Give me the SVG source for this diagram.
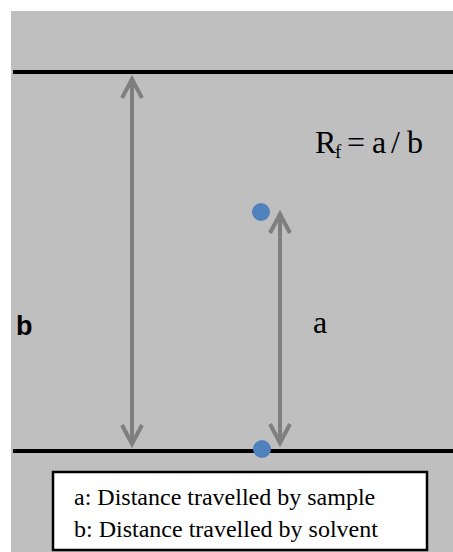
<svg xmlns="http://www.w3.org/2000/svg" width="453" height="552" viewBox="0 0 453 552">
  <style>
    .plate { fill: #BFBFBF; }
    .front { stroke: #000000; stroke-width: 4; }
    .dist { stroke: #7F7F7F; stroke-width: 4; fill: none; }
    .spot { fill: #4F81BD; }
    .serif { font-family: "Liberation Serif", "Times New Roman", serif; fill: #000000; }
    .sans { font-family: "Liberation Sans", Arial, sans-serif; font-weight: bold; fill: #000000; }
  </style>
  <defs>
    <marker id="chev" markerUnits="userSpaceOnUse" viewBox="-26 -16 32 32" markerWidth="32" markerHeight="32" refX="0" refY="0" orient="auto-start-reverse">
      <path d="M-19,-10 L0,0 L-19,10" fill="none" stroke="#7F7F7F" stroke-width="4" stroke-linejoin="miter"/>
    </marker>
  </defs>
  <rect class="plate" x="11" y="11" width="442" height="541"/>

  <g id="solvent-front">
    <line class="front" x1="13" y1="72" x2="453" y2="72"/>
  </g>
  <g id="baseline">
    <line class="front" x1="13" y1="451" x2="453" y2="451"/>
  </g>

  <g id="connectors">
    <line class="dist" x1="132" y1="79" x2="132" y2="444" marker-start="url(#chev)" marker-end="url(#chev)"/>
    <line class="dist" x1="280" y1="214" x2="280" y2="443" marker-start="url(#chev)" marker-end="url(#chev)"/>
  </g>

  <g id="spot-sample">
    <circle class="spot" cx="261" cy="212" r="9"/>
  </g>
  <g id="spot-origin">
    <circle class="spot" cx="262" cy="449" r="9"/>
  </g>

  <g id="formula">
    <text class="serif" font-size="32"><tspan x="315" y="153">R</tspan><tspan x="335" y="158" font-size="19">f</tspan><tspan x="347" y="153">=</tspan><tspan x="372" y="153">a</tspan><tspan x="391" y="153">/</tspan><tspan x="407" y="153">b</tspan></text>
  </g>

  <g id="label-a">
    <text class="serif" x="313" y="333" font-size="32">a</text>
  </g>

  <g id="label-b">
    <text class="sans" x="16" y="335" font-size="27">b</text>
  </g>

  <g id="legend">
    <rect x="53" y="472" width="374" height="78" fill="#FFFFFF" stroke="#000000" stroke-width="2.5"/>
    <text class="serif" x="74" y="505" font-size="24">a: Distance travelled by sample</text>
    <text class="serif" x="74" y="537" font-size="24">b: Distance travelled by solvent</text>
  </g>
</svg>
